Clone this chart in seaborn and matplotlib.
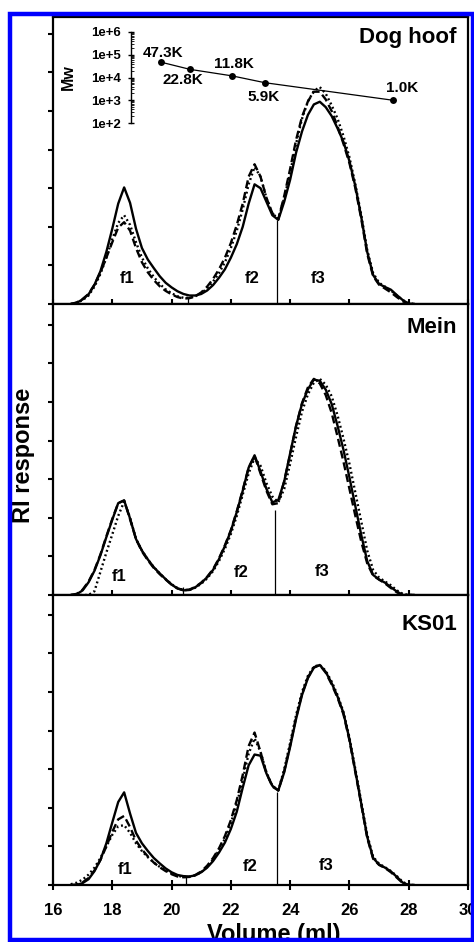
import numpy as np
import pandas as pd
import matplotlib
matplotlib.use("Agg")
import matplotlib.pyplot as plt
import seaborn as sns
from matplotlib.patches import Rectangle
from matplotlib.ticker import LogLocator, NullFormatter

# ---------------- data ----------------
volume = [16.6, 16.8, 17.0, 17.2, 17.4, 17.6, 17.8, 18.0, 18.2, 18.4,
          18.6, 18.8, 19.0, 19.2, 19.4, 19.6, 19.8, 20.0, 20.2, 20.4,
          20.6, 20.8, 21.0, 21.2, 21.4, 21.6, 21.8, 22.0, 22.2, 22.4,
          22.6, 22.8, 23.0, 23.2, 23.4, 23.6, 23.8, 24.0, 24.2, 24.4,
          24.6, 24.8, 25.0, 25.2, 25.4, 25.6, 25.8, 26.0, 26.2, 26.4,
          26.6, 26.8, 27.0, 27.2, 27.4, 27.6, 27.8, 28.0, 28.2]

dog_solid = [0.00, 0.03, 0.12, 0.25, 0.50, 0.85, 1.35, 1.95, 2.60, 3.02,
             2.62, 1.95, 1.45, 1.15, 0.93, 0.72, 0.55, 0.43, 0.33, 0.26,
             0.22, 0.22, 0.26, 0.35, 0.49, 0.68, 0.90, 1.20, 1.55, 2.00,
             2.60, 3.10, 3.00, 2.65, 2.30, 2.18, 2.65, 3.22, 3.92, 4.47,
             4.90, 5.17, 5.24, 5.10, 4.87, 4.55, 4.20, 3.70, 3.05, 2.25,
             1.35, 0.75, 0.52, 0.44, 0.37, 0.23, 0.10, 0.01, 0.00]
dog_dashed = [0.00, 0.04, 0.13, 0.26, 0.50, 0.82, 1.20, 1.60, 1.98, 2.12,
              1.90, 1.45, 1.08, 0.82, 0.62, 0.46, 0.34, 0.25, 0.18, 0.14,
              0.15, 0.20, 0.30, 0.45, 0.65, 0.90, 1.20, 1.58, 2.05, 2.60,
              3.30, 3.62, 3.30, 2.75, 2.35, 2.20, 2.80, 3.50, 4.25, 4.85,
              5.25, 5.50, 5.50, 5.30, 5.00, 4.60, 4.15, 3.65, 3.00, 2.20,
              1.30, 0.72, 0.50, 0.40, 0.30, 0.18, 0.07, 0.00, 0.00]
dog_dotted = [0.00, 0.03, 0.10, 0.22, 0.45, 0.78, 1.20, 1.68, 2.10, 2.30,
              2.05, 1.60, 1.20, 0.92, 0.70, 0.52, 0.38, 0.28, 0.20, 0.16,
              0.16, 0.20, 0.28, 0.40, 0.58, 0.80, 1.08, 1.45, 1.90, 2.45,
              3.10, 3.55, 3.30, 2.75, 2.35, 2.20, 2.75, 3.40, 4.15, 4.80,
              5.25, 5.52, 5.62, 5.45, 5.15, 4.80, 4.35, 3.80, 3.10, 2.30,
              1.40, 0.80, 0.55, 0.45, 0.35, 0.22, 0.10, 0.02, 0.00]

mein_solid = [0.00, 0.02, 0.12, 0.33, 0.63, 1.03, 1.50, 1.95, 2.38, 2.45,
              1.98, 1.45, 1.15, 0.92, 0.72, 0.56, 0.41, 0.27, 0.17, 0.12,
              0.13, 0.20, 0.31, 0.46, 0.65, 0.93, 1.27, 1.66, 2.15, 2.70,
              3.30, 3.62, 3.20, 2.75, 2.40, 2.46, 2.94, 3.67, 4.38, 4.95,
              5.33, 5.58, 5.55, 5.32, 4.95, 4.38, 3.76, 3.05, 2.30, 1.55,
              0.88, 0.52, 0.40, 0.32, 0.20, 0.09, 0.00, 0.00, 0.00]
mein_dashed = [0.00, 0.03, 0.14, 0.35, 0.65, 1.05, 1.52, 1.97, 2.38, 2.45,
               1.96, 1.45, 1.13, 0.90, 0.70, 0.54, 0.40, 0.27, 0.17, 0.13,
               0.14, 0.21, 0.32, 0.47, 0.67, 0.95, 1.29, 1.68, 2.17, 2.72,
               3.30, 3.60, 3.15, 2.70, 2.35, 2.38, 2.95, 3.65, 4.38, 4.97,
               5.38, 5.60, 5.48, 5.18, 4.72, 4.10, 3.45, 2.75, 2.05, 1.38,
               0.82, 0.50, 0.40, 0.30, 0.18, 0.07, 0.00, 0.00, 0.00]
mein_dotted = [0.00, 0.00, 0.00, 0.00, 0.10, 0.60, 1.10, 1.57, 2.05, 2.42,
               2.00, 1.45, 1.15, 0.92, 0.72, 0.56, 0.41, 0.28, 0.18, 0.13,
               0.13, 0.19, 0.29, 0.43, 0.62, 0.88, 1.20, 1.58, 2.05, 2.60,
               3.15, 3.55, 3.35, 2.90, 2.55, 2.40, 2.75, 3.40, 4.10, 4.75,
               5.20, 5.50, 5.60, 5.45, 5.15, 4.65, 4.05, 3.40, 2.65, 1.90,
               1.15, 0.65, 0.45, 0.35, 0.25, 0.12, 0.03, 0.00, 0.00]

ks01_solid = [0.00, 0.00, 0.05, 0.15, 0.36, 0.65, 1.08, 1.62, 2.15, 2.40,
              1.85, 1.35, 1.08, 0.88, 0.70, 0.56, 0.43, 0.33, 0.26, 0.23,
              0.22, 0.25, 0.33, 0.45, 0.62, 0.84, 1.10, 1.45, 1.90, 2.52,
              3.10, 3.38, 3.35, 2.89, 2.57, 2.45, 2.92, 3.58, 4.30, 4.92,
              5.36, 5.63, 5.70, 5.52, 5.23, 4.88, 4.45, 3.78, 2.95, 2.10,
              1.25, 0.70, 0.53, 0.45, 0.35, 0.21, 0.06, 0.00, 0.00]
ks01_dashed = [0.00, 0.01, 0.07, 0.18, 0.38, 0.65, 1.00, 1.38, 1.70, 1.79,
               1.50, 1.15, 0.92, 0.74, 0.58, 0.46, 0.36, 0.28, 0.22, 0.20,
               0.21, 0.26, 0.35, 0.50, 0.70, 0.95, 1.27, 1.68, 2.20, 2.85,
               3.60, 3.95, 3.45, 2.90, 2.55, 2.45, 2.95, 3.62, 4.34, 4.95,
               5.38, 5.64, 5.70, 5.50, 5.20, 4.85, 4.42, 3.75, 2.92, 2.08,
               1.22, 0.68, 0.52, 0.44, 0.33, 0.19, 0.05, 0.00, 0.00]
ks01_dotted = [0.02, 0.06, 0.14, 0.27, 0.45, 0.70, 1.00, 1.30, 1.52, 1.55,
               1.35, 1.08, 0.88, 0.72, 0.58, 0.47, 0.38, 0.30, 0.24, 0.21,
               0.21, 0.25, 0.33, 0.47, 0.66, 0.90, 1.20, 1.60, 2.10, 2.72,
               3.40, 3.80, 3.45, 2.92, 2.57, 2.45, 3.00, 3.68, 4.40, 5.00,
               5.42, 5.66, 5.70, 5.55, 5.27, 4.92, 4.48, 3.82, 3.00, 2.15,
               1.30, 0.73, 0.55, 0.46, 0.36, 0.23, 0.08, 0.00, 0.00]

panel_titles = ["Dog hoof", "Mein", "KS01"]
fraction_labels = ["f1", "f2", "f3"]
# fraction label positions (volume, RI) per panel
fraction_x = [[18.49, 22.72, 24.95], [18.22, 22.34, 25.09], [18.43, 22.64, 25.20]]
fraction_y = [[0.54, 0.54, 0.54], [0.35, 0.47, 0.49], [0.29, 0.35, 0.39]]
# cut lines between fractions (volume, height) per panel
cut_x = [[20.56, 23.56], [20.39, 23.49], [20.48, 23.57]]
cut_h = [[0.18, 2.18], [0.21, 2.20], [0.22, 2.42]]

# Mw calibration inset
mw_volume = [19.64, 20.62, 22.04, 23.15, 27.47]
mw_values = [47300, 22800, 11800, 5900, 1000]
mw_labels = ["47.3K", "22.8K", "11.8K", "5.9K", "1.0K"]
mw_ticks = [1e2, 1e3, 1e4, 1e5, 1e6]
mw_tick_labels = ["1e+2", "1e+3", "1e+4", "1e+5", "1e+6"]

x_ticks = [16, 18, 20, 22, 24, 26, 28, 30]

# ---------------- style ----------------
sns.set_style("ticks")
plt.rcParams["font.family"] = ["Liberation Sans", "DejaVu Sans"]
plt.rcParams["font.weight"] = "bold"
for key in ["text.color", "axes.labelcolor", "xtick.color", "ytick.color",
            "axes.edgecolor"]:
    plt.rcParams[key] = "black"

W, H = 474, 942
fig = plt.figure(figsize=(W / 100, H / 100), dpi=100)
L, R = 53 / W, 468 / W
B, T = (H - 885) / H, (H - 17) / H
heights = [287, 291, 290]
gs = fig.add_gridspec(3, 1, left=L, right=R, bottom=B, top=T, hspace=0,
                      height_ratios=heights)
axes = [fig.add_subplot(gs[i]) for i in range(3)]
ylims = [h / 38.6 for h in heights]
title_y = [0.908, 0.899, 0.879]

series = [(dog_solid, dog_dashed, dog_dotted),
          (mein_solid, mein_dashed, mein_dotted),
          (ks01_solid, ks01_dashed, ks01_dotted)]

n = len(volume)
for i, ax in enumerate(axes):
    s, d, t = series[i]
    df = pd.DataFrame({
        "Volume": volume * 3,
        "RI": list(s) + list(d) + list(t),
        "trace": ["solid"] * n + ["dashed"] * n + ["dotted"] * n,
    })
    sns.lineplot(data=df, x="Volume", y="RI", style="trace",
                 style_order=["dotted", "dashed", "solid"],
                 dashes={"solid": "", "dashed": (3.4, 1.7), "dotted": (0.8, 1.2)},
                 color="black", linewidth=1.7, legend=False, ax=ax,
                 estimator=None, sort=False)
    ax.vlines(cut_x[i], 0, cut_h[i], color="black", linewidth=0.9)
    for lab, fx, fy in zip(fraction_labels, fraction_x[i], fraction_y[i]):
        ax.text(fx, fy, lab, ha="center", va="baseline", fontsize=12,
                fontweight="bold")
    ax.text(0.973, title_y[i], panel_titles[i], transform=ax.transAxes,
            ha="right", va="baseline", fontsize=16, fontweight="bold")
    ax.set_xlim(16, 30)
    ax.set_ylim(0, ylims[i])
    ax.set_xticks(x_ticks)
    ax.set_yticks(range(8))
    ax.set_yticklabels([])
    ax.set_xlabel("")
    ax.set_ylabel("")
    ax.tick_params(axis="x", direction="inout", length=7, width=1.5, pad=9.4,
                   labelsize=12)
    ax.tick_params(axis="y", direction="out", length=3.5, width=1.5)
    for sp in ax.spines.values():
        sp.set_linewidth(1.6)
    if i < 2:
        ax.tick_params(axis="x", labelbottom=False)
    else:
        for lbl in ax.get_xticklabels():
            lbl.set_fontweight("bold")

# inset Mw axis over top panel
ax_in = fig.add_axes([L, (H - 123) / H, R - L, (123 - 32) / H])
ax_in.patch.set_alpha(0)
ax_in.set_xlim(16, 30)
ax_in.set_yscale("log")
ax_in.set_ylim(1e2, 1e6)
for sname in ["top", "right", "bottom"]:
    ax_in.spines[sname].set_visible(False)
ax_in.spines["left"].set_position(("data", 18.63))
ax_in.spines["left"].set_linewidth(1.0)
ax_in.set_xticks([])
ax_in.set_yticks(mw_ticks)
ax_in.set_yticklabels(mw_tick_labels, fontsize=9.5, fontweight="bold")
ax_in.yaxis.set_minor_locator(LogLocator(base=10, subs=np.arange(2, 10), numticks=20))
ax_in.yaxis.set_minor_formatter(NullFormatter())
ax_in.tick_params(axis="y", which="major", direction="inout", length=4, width=1, pad=5.5)
ax_in.tick_params(axis="y", which="minor", direction="in", length=2, width=0.6)
sns.lineplot(x=mw_volume, y=mw_values, ax=ax_in, color="black", linewidth=0.9,
             marker="o", markersize=5, markeredgewidth=0, estimator=None, sort=False)
ax_in.set_xlabel("")
ax_in.set_ylabel("")
ax_in.text(0.036, 0.5, "Mw", transform=ax_in.transAxes, rotation=90,
           ha="center", va="center", fontsize=11.5, fontweight="bold")
label_offsets = [(1.4, 6.5), (-5, -7.9), (1.4, 8.6), (-0.7, -10), (6.5, 8.6)]
for vx, vy, lab, off in zip(mw_volume, mw_values, mw_labels, label_offsets):
    ax_in.annotate(lab, (vx, vy), xytext=off, textcoords="offset points",
                   ha="center", va="center", fontsize=11, fontweight="bold")

# axis titles
fig.text(23.5 / W, (H - 455) / H, "RI response", rotation=90, ha="center",
         va="center", fontsize=17, fontweight="bold")
fig.text(274 / W, 1.0 / H, "Volume (ml)", ha="center", va="baseline",
         fontsize=17, fontweight="bold")

# blue frame
frame = Rectangle((10 / W, 2 / H), (473 - 10) / W, (940 - 14) / H,
                  transform=fig.transFigure, fill=False, edgecolor="#0000ff",
                  linewidth=3.2, zorder=100)
fig.add_artist(frame)

fig.savefig("out.png", dpi=100)
